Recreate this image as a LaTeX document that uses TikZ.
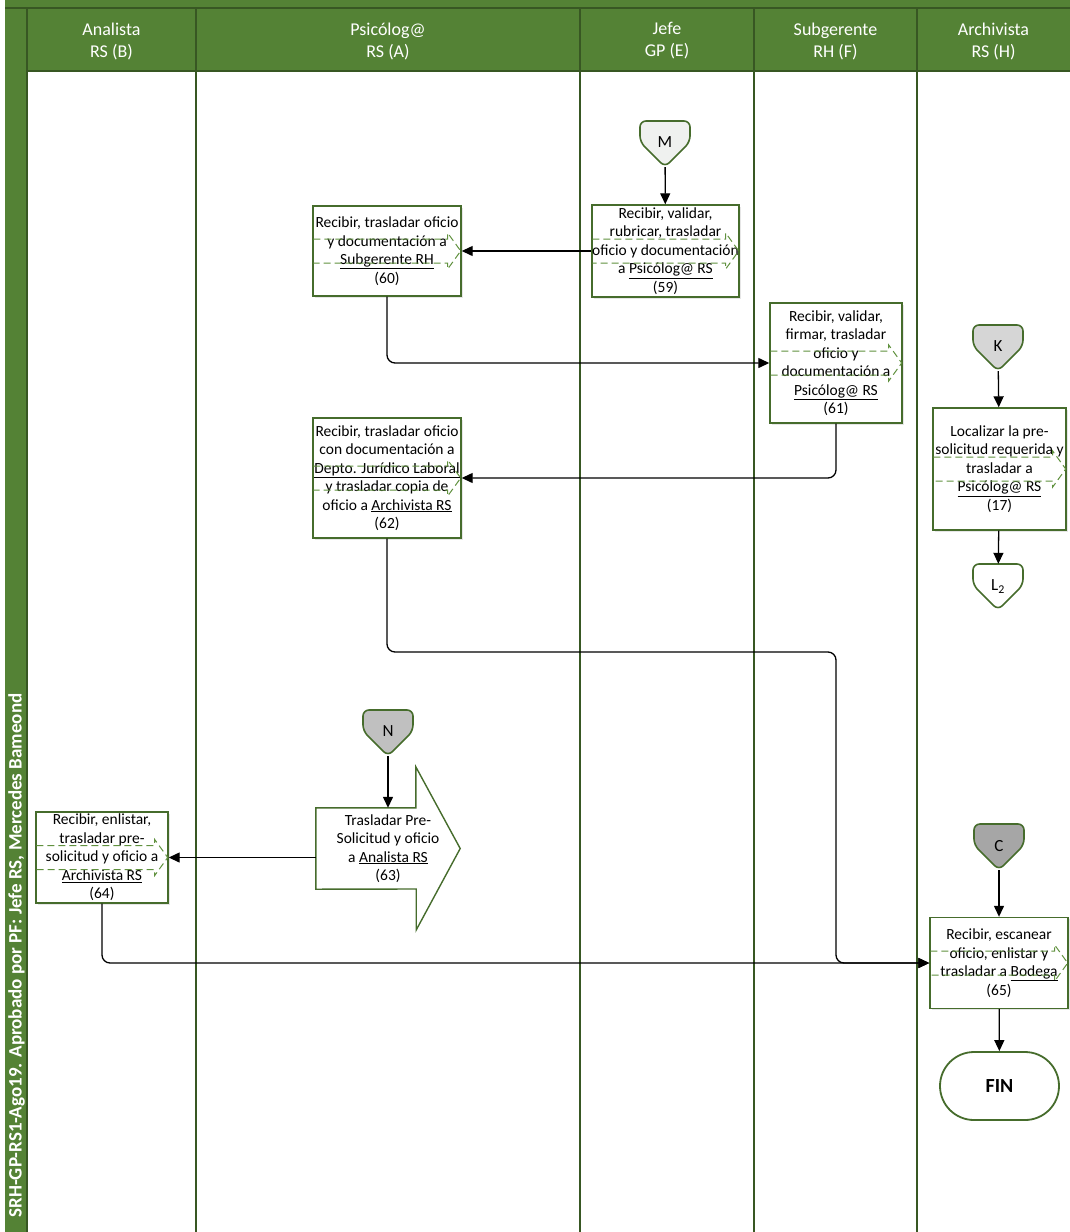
\documentclass[tikz,border=0pt]{standalone}
\usepackage{fontspec}
\setmainfont{Carlito}
\usepackage{tikz}
\usetikzlibrary{arrows.meta, positioning, calc, shadows}
\usepackage{xcolor}
\definecolor{lanegreen}{RGB}{84, 130, 53}
\definecolor{darkgreen}{RGB}{56, 87, 35}
\definecolor{boxgreen}{RGB}{70, 108, 44}
\definecolor{linkgreen}{RGB}{96, 145, 62}
\definecolor{connM}{RGB}{239, 241, 239}
\definecolor{connK}{RGB}{214, 214, 214}
\definecolor{connN}{RGB}{192, 192, 192}
\definecolor{connC}{RGB}{166, 166, 166}

% off-page connector: fill, name, centre, label
\newcommand{\offpage}[4]{%
  \coordinate (#2-c) at #3;
  \draw[connline, fill=#1] ([shift={(-25,-23)}]#2-c) -- ([shift={(25,-23)}]#2-c) -- ([shift={(25,-2)}]#2-c) -- ([shift={(0,23)}]#2-c) -- ([shift={(-25,-2)}]#2-c) -- cycle;
  \node[conn] (#2) at #3 {\raisebox{3pt}{#4}};
}
% dashed link mark across a box
\newcommand{\linkmark}[1]{%
  \draw[linkline] ([shift={(1,-12)}]#1.west) -- ([shift={(-14,-12)}]#1.east) -- ([shift={(-14,-18)}]#1.east) -- ([shift={(-1,0)}]#1.east) -- ([shift={(-14,18)}]#1.east) -- ([shift={(-14,12)}]#1.east) -- ([shift={(1,12)}]#1.west);
}

\begin{document}
\begin{tikzpicture}[x=1pt, y=-1pt,
    box/.style={rectangle, draw=boxgreen, line width=1.4pt, fill=white, inner sep=0pt, align=center, font=\fontsize{15.5}{18.5}\selectfont, drop shadow={shadow xshift=1.5pt, shadow yshift=-1.5pt, opacity=0.2}},
    conn/.style={inner sep=0pt, minimum width=50pt, minimum height=46pt, font=\fontsize{17}{18}\selectfont},
    connline/.style={draw=boxgreen, line width=1.6pt, rounded corners=6pt},
    term/.style={rectangle, rounded corners=34pt, draw=boxgreen, line width=1.8pt, fill=white, minimum width=119pt, minimum height=68pt, font=\fontsize{20}{22}\selectfont\bfseries},
    linkline/.style={draw=linkgreen, line width=1pt, dash pattern=on 7pt off 4pt},
    lane/.style={draw=darkgreen, line width=1.3pt},
    head/.style={text=white, align=center, font=\fontsize{18}{22}\selectfont},
    side/.style={text=white, font=\fontsize{19}{22}\selectfont\bfseries},
    arrow/.style={-{Triangle[length=11pt, width=10pt]}, line width=1.3pt, black}
]
    \useasboundingbox (0,0) rectangle (1070,1232);

    % Lanes
    \fill[lanegreen] (5,0) rectangle (1070,71);
    \fill[lanegreen] (5,0) rectangle (27,1232);
    \draw[lane] (5,8) -- (1070,8);
    \draw[lane] (27,71) -- (1070,71);
    \foreach \x in {27,196,580,754,917}
        \draw[lane] (\x,8) -- (\x,1232);
    \node[head] (hB) at (111.5,41) {Analista\\RS (B)};
    \node[head] (hA) at (388,41) {Psicólog@\\RS (A)};
    \node[head] (hE) at (667,41) {Jefe\\GP (E)};
    \node[head] (hF) at (835.5,41) {Subgerente\\RH (F)};
    \node[head] (hH) at (993.5,41) {Archivista\\RS (H)};
    \node[side, rotate=90, anchor=east] (stamp) at (16.5,690) {SRH-GP-RS1-Ago19. Aprobado por PF: Jefe RS, Mercedes Bameond};

    % Connectors
    \offpage{connM}{M}{(665,144)}{M}
    \offpage{connK}{K}{(998,348)}{K}
    \offpage{white}{L2}{(998,587)}{L\textsubscript{2}}
    \offpage{connN}{N}{(388,733)}{N}
    \offpage{connC}{C}{(999,847)}{C}

    % Boxes
    \node[box, minimum width=147pt, minimum height=92pt] (b59) at (665.5,251) {Recibir, validar,\\ rubricar, trasladar\\ oficio y documentación\\ a \underline{Psicólog@ RS}\\ (59)};
    \node[box, minimum width=148pt, minimum height=90pt] (b60) at (387,251) {Recibir, trasladar oficio\\ y documentación a\\ \underline{Subgerente RH}\\ (60)};
    \node[box, minimum width=132pt, minimum height=120pt] (b61) at (836,363) {Recibir, validar,\\ firmar, trasladar\\ oficio y\\ documentación a\\ \underline{Psicólog@ RS}\\ (61)};
    \node[box, minimum width=148pt, minimum height=120pt] (b62) at (387,478) {Recibir, trasladar oficio\\ con documentación a\\ \underline{Depto. Jurídico Laboral}\\ y trasladar copia de\\ oficio a \underline{Archivista RS}\\ (62)};
    \node[box, minimum width=133pt, minimum height=122pt] (b17) at (999.5,469) {Localizar la pre-\\ solicitud requerida y\\ trasladar a\\ \underline{Psicólog@ RS}\\ (17)};
    \node[inner sep=0pt, minimum width=144pt, minimum height=81pt, align=center, font=\fontsize{15.5}{18.5}\selectfont] (b63) at (388,848.5) {Trasladar Pre-\\ Solicitud y oficio\\ a \underline{Analista RS}\\ (63)};
    \draw[draw=boxgreen, line width=1.4pt] (b63.north west) -- ++(100,0) -- ++(0,-41) -- (b63.east) -- ++(-44,81.5) -- ++(0,-41) -- (b63.south west) -- cycle;
    \node[box, minimum width=132pt, minimum height=91pt] (b64) at (102,857.5) {Recibir, enlistar,\\ trasladar pre-\\ solicitud y oficio a\\ \underline{Archivista RS}\\ (64)};
    \node[box, minimum width=138pt, minimum height=91pt] (b65) at (999,963) {Recibir, escanear\\ oficio, enlistar y\\ trasladar a \underline{Bodega}\\ (65)};
    \node[term] (fin) at (999.5,1086) {FIN};

    % Link marks
    \foreach \b in {b59,b60,b61,b62,b17,b64,b65}
        {\linkmark{\b}}

    % Arrows
    \coordinate (j1) at (836,652);
    \draw[arrow] (M) -- (b59);
    \draw[arrow] (b59) -- (b60);
    \draw[arrow, rounded corners=8pt] (b60.south) |- (b61.west);
    \draw[arrow, rounded corners=8pt] (b61.south) |- (b62.east);
    \draw[arrow, rounded corners=8pt] (b62.south) |- (j1) |- (b65.west);
    \draw[arrow] (K) -- (b17);
    \draw[arrow] (b17) -- (L2);
    \draw[arrow] (N) -- (b63.north);
    \draw[arrow] (b64.east -| b63.west) -- (b64.east);
    \draw[arrow, rounded corners=8pt] (b64.south) |- (b65.west);
    \draw[arrow] (C) -- (b65);
    \draw[arrow] (b65) -- (fin);

\end{tikzpicture}
\end{document}
